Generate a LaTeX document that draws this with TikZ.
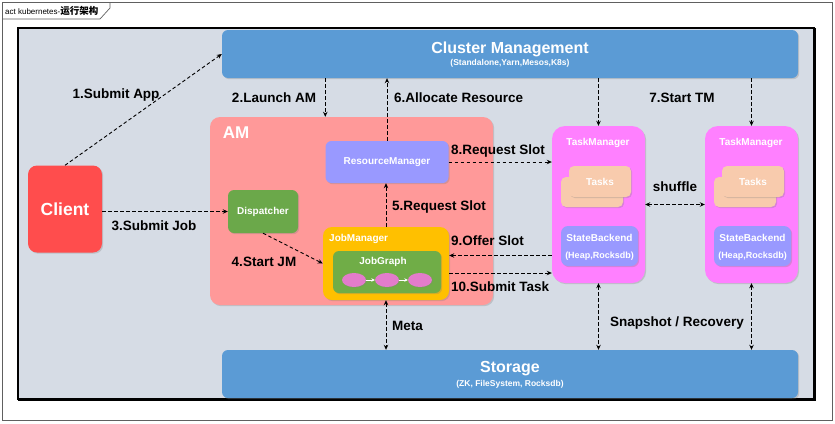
\documentclass[tikz,border=0pt]{standalone}
\usepackage{fontspec}
\setmainfont{Liberation Sans}
\newfontfamily\cjk{Noto Sans CJK SC}
\usetikzlibrary{arrows.meta,shadows,calc,shapes.geometric}
\definecolor{bggray}{HTML}{D6DCE5}
\definecolor{cmblue}{HTML}{5B9BD5}
\definecolor{clientred}{HTML}{FF4D4D}
\definecolor{ampink}{HTML}{FF9999}
\definecolor{rmviolet}{HTML}{9999FF}
\definecolor{dispgreen}{HTML}{6BA84A}
\definecolor{jmyellow}{HTML}{FFC000}
\definecolor{jggreen}{HTML}{70AD47}
\definecolor{ellpink}{HTML}{E37CCB}
\definecolor{tmmagenta}{HTML}{FF80FF}
\definecolor{taskpeach}{HTML}{F8CBAD}
\definecolor{framegray}{HTML}{606060}
\tikzset{
  bx/.style={draw=none, inner sep=0pt, rounded corners=6pt,
    drop shadow={shadow xshift=1.2pt, shadow yshift=-1.2pt, opacity=0.3}},
  wt/.style={text=white, inner sep=0pt, font=\bfseries\fontsize{10}{12}\selectfont},
  lbl/.style={text=black, inner sep=0pt, font=\bfseries\fontsize{13.5}{15}\selectfont},
  dar/.style={draw=black, dash pattern=on 3.5pt off 2.5pt, line width=0.9pt,
    -{Stealth[length=5pt,width=4.5pt]}},
  ddar/.style={draw=black, dash pattern=on 3.5pt off 2.5pt, line width=0.9pt,
    {Stealth[length=5pt,width=4.5pt]}-{Stealth[length=5pt,width=4.5pt]}},
  ell/.style={ellipse, fill=ellpink, draw=none, minimum width=24pt, minimum height=14pt, inner sep=0pt,
    drop shadow={shadow xshift=0.8pt, shadow yshift=-0.8pt, opacity=0.3}},
  warr/.style={draw=white, line width=1pt, -{Stealth[length=3.5pt,width=3.5pt]}}
}
\begin{document}
\begin{tikzpicture}[x=1pt,y=-1pt]
\useasboundingbox (0,0) rectangle (835,423);
\fill[white] (0,0) rectangle (835,423);
% outer frame and tab
\draw[framegray, line width=0.7pt] (2,2) rectangle (832,420);
\draw[framegray, line width=0.7pt] (2,19) -- (100,19) -- (110,8) -- (110,2);
\node[anchor=west, inner sep=0pt, font=\fontsize{8}{9}\selectfont] (tab) at (5,11)
  {act kubernetes-{\cjk\bfseries\fontsize{9.5}{10}\selectfont 运行架构}};
% inner panel
\draw[fill=bggray, draw=black, line width=1.5pt] (18,28) rectangle (814,399);
\draw[black, line width=3pt] (814,28) -- (814,399) -- (18,399);

% boxes
\node[bx, fill=cmblue, minimum width=576pt, minimum height=48pt] (cm) at (510,54) {};
\node[wt, font=\bfseries\fontsize{16}{18}\selectfont] (cmt) at (510,49) {Cluster Management};
\node[wt, font=\bfseries\fontsize{8.5}{10}\selectfont] (cms) at (510,63) {(Standalone,Yarn,Mesos,K8s)};

\node[bx, fill=cmblue, minimum width=576pt, minimum height=48pt] (st) at (510,374) {};
\node[wt, font=\bfseries\fontsize{16}{18}\selectfont] (stt) at (510,369) {Storage};
\node[wt, font=\bfseries\fontsize{8.5}{10}\selectfont] (sts) at (510,384) {(ZK, FileSystem, Rocksdb)};

\node[bx, fill=clientred, rounded corners=9pt, minimum width=74pt, minimum height=87pt,
  text=white, font=\bfseries\fontsize{17.5}{20}\selectfont] (client) at (65,209) {Client};

\node[bx, fill=ampink, rounded corners=10pt, minimum width=283pt, minimum height=188pt] (am) at (351.5,211) {};
\node[wt, font=\bfseries\fontsize{17}{19}\selectfont] (amt) at (236,133) {AM};

\node[bx, fill=rmviolet, rounded corners=6pt, minimum width=123pt, minimum height=42pt,
  text=white, font=\bfseries\fontsize{10}{12}\selectfont] (rm) at (387,162) {ResourceManager};

\node[bx, fill=dispgreen, rounded corners=6pt, minimum width=70pt, minimum height=43pt,
  text=white, font=\bfseries\fontsize{10}{12}\selectfont] (disp) at (263,211.5) {Dispatcher};

\node[bx, fill=jmyellow, rounded corners=9pt, minimum width=126pt, minimum height=73pt] (jm) at (386,263.5) {};
\node[wt, anchor=west] (jmt) at (329,239) {JobManager};
\node[bx, fill=jggreen, rounded corners=6pt, minimum width=108pt, minimum height=42pt] (jg) at (387,272) {};
\node[wt] (jgt) at (383,262) {JobGraph};
\node[ell] (e1) at (354,280) {};
\node[ell] (e2) at (387,280) {};
\node[ell] (e3) at (420,280) {};
\draw[warr] (e1.east) -- (e2.west);
\draw[warr] (e2.east) -- (e3.west);

% task managers
\foreach \i/\dx in {1/0,2/153}{
  \node[bx, fill=tmmagenta, rounded corners=13pt, minimum width=93pt, minimum height=157pt] (tm\i) at (598.5+\dx,204.5) {};
  \node[wt] (tmt\i) at (598+\dx,143) {TaskManager};
  \node[bx, fill=taskpeach, rounded corners=5pt, minimum width=62pt, minimum height=30pt] (tb\i) at (592+\dx,192) {};
  \node[bx, fill=taskpeach, rounded corners=5pt, minimum width=62pt, minimum height=31pt,
    text=white, font=\bfseries\fontsize{10}{12}\selectfont] (tf\i) at (600+\dx,181.5) {Tasks};
  \node[bx, fill=rmviolet, rounded corners=7pt, minimum width=77pt, minimum height=40pt] (sb\i) at (599.5+\dx,246) {};
  \node[wt] (sbt\i) at (599.5+\dx,238) {StateBackend};
  \node[wt, font=\bfseries\fontsize{9}{11}\selectfont] (sbs\i) at (599.5+\dx,256) {(Heap,Rocksdb)};
}

% connectors
\draw[dar] (client.north) -- (cm.west);
\draw[dar] (rm.west |- cm.south) -- (rm.west |- am.north);
\draw[dar] (rm.north) -- (rm.north |- cm.south);
\draw[dar] (tm1.north |- cm.south) -- (tm1.north);
\draw[dar] (tm2.north |- cm.south) -- (tm2.north);
\draw[dar] (disp.west -| client.east) -- (disp.west);
\draw[dar] (disp.south) -- (jm.west);
\draw[dar] (jm.north) -- (jm.north |- rm.south);
\draw[dar] (rm.east) -- (rm.east -| tm1.west);
\coordinate (o1) at ([yshift=8pt]jm.east);
\coordinate (o2) at ([yshift=-9.5pt]jm.east);
\draw[dar] (o1 -| tm1.west) -- (o1);
\draw[dar] (o2) -- (o2 -| tm1.west);
\draw[ddar] (tm1.east) -- (tm2.west);
\draw[ddar] (jm.south) -- (jm.south |- st.north);
\draw[ddar] (tm1.south) -- (tm1.south |- st.north);
\draw[ddar] (tm2.south) -- (tm2.south |- st.north);

% labels
\node[lbl] (l1) at (116,95) {1.Submit App};
\node[lbl] (l2) at (274,98) {2.Launch AM};
\node[lbl, anchor=west] (l6) at (394,98) {6.Allocate Resource};
\node[lbl] (l7) at (682,98) {7.Start TM};
\node[lbl] (l3) at (154,226) {3.Submit Job};
\node[lbl] (l4) at (264,262) {4.Start JM};
\node[lbl, anchor=west] (l5) at (392,207) {5.Request Slot};
\node[lbl, anchor=west] (l8) at (451,151) {8.Request Slot};
\node[lbl, anchor=west] (l9) at (451,241) {9.Offer Slot};
\node[lbl, anchor=west] (l10) at (451,287) {10.Submit Task};
\node[lbl] (lsh) at (675,187) {shuffle};
\node[lbl, anchor=west] (lmeta) at (392,326) {Meta};
\node[lbl] (lsnap) at (677,323) {Snapshot / Recovery};
\end{tikzpicture}
\end{document}
